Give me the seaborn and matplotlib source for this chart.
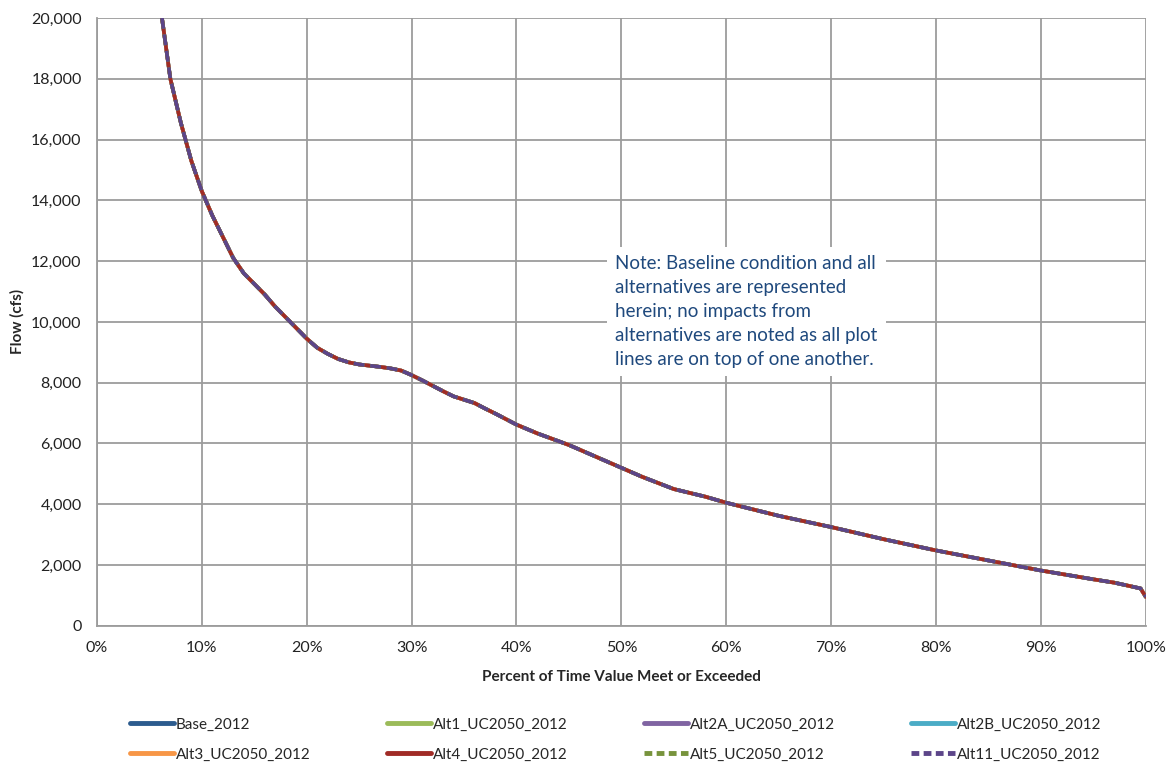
import numpy as np
import pandas as pd
import matplotlib
matplotlib.use("Agg")
import matplotlib.pyplot as plt
import seaborn as sns
from matplotlib.lines import Line2D
from matplotlib.ticker import FuncFormatter, MultipleLocator

# ── Data (flow duration curve) ──
pct = [6.2, 7, 8, 9, 10, 11, 12, 13, 14, 15, 16, 17, 18, 19, 20,
       21, 22, 23, 24, 25, 26, 27, 28, 29, 30, 31, 32, 33, 34, 35,
       36, 37, 38, 39, 40, 42, 45, 48, 50, 52, 55, 58, 60, 65, 70,
       75, 80, 85, 90, 95, 97, 99.5, 100]
flow = [20000, 18000, 16550, 15300, 14300, 13500, 12800, 12100, 11600, 11250,
        10900, 10500, 10150, 9800, 9450, 9150, 8950, 8780, 8670, 8600,
        8560, 8520, 8470, 8400, 8250, 8080, 7900, 7720, 7550, 7440,
        7330, 7150, 6980, 6800, 6620, 6330, 5950, 5500, 5200, 4900,
        4500, 4250, 4050, 3620, 3250, 2850, 2480, 2150, 1820, 1530,
        1420, 1230, 950]

series = ["Base_2012", "Alt1_UC2050_2012", "Alt2A_UC2050_2012", "Alt2B_UC2050_2012",
          "Alt3_UC2050_2012", "Alt4_UC2050_2012", "Alt5_UC2050_2012", "Alt11_UC2050_2012"]
colors = ["#2C5B8E", "#9BBB59", "#8064A2", "#4BACC6",
          "#F79646", "#A02B26", "#77933C", "#5C4589"]
dashed = [False, False, False, False, False, False, True, True]

note = ("Note: Baseline condition and all\n"
        "alternatives are represented\n"
        "herein; no impacts from\n"
        "alternatives are noted as all plot\n"
        "lines are on top of one another.")

df = pd.DataFrame({
    "pct": np.tile(pct, len(series)),
    "flow": np.tile(flow, len(series)),
    "series": np.repeat(series, len(pct)),
})

sns.set_style("white")
plt.rcParams["font.family"] = ["Lato", "DejaVu Sans"]

fig = plt.figure(figsize=(11.68, 7.66), dpi=100)
ax = fig.add_axes([0.083, 0.183, 0.898, 0.7935])

palette = dict(zip(series, colors))
dash_map = {s: ((3, 1.6) if d else "") for s, d in zip(series, dashed)}
sns.lineplot(data=df, x="pct", y="flow", hue="series", style="series",
             palette=palette, dashes=dash_map, linewidth=2.6, ax=ax,
             legend=False, sort=False)

ax.set_xlim(0, 100)
ax.set_ylim(0, 20000)
ax.xaxis.set_major_locator(MultipleLocator(10))
ax.yaxis.set_major_locator(MultipleLocator(2000))
ax.xaxis.set_major_formatter(FuncFormatter(lambda v, _: f"{v:.0f}%"))
ax.yaxis.set_major_formatter(FuncFormatter(lambda v, _: f"{v:,.0f}"))
ax.grid(True, color="#9C9C9C", linewidth=1.3)
ax.set_axisbelow(True)
for side in ["top", "right"]:
    ax.spines[side].set_visible(False)
for side in ["left", "bottom"]:
    ax.spines[side].set_color("#9C9C9C")
    ax.spines[side].set_linewidth(1.3)
ax.tick_params(axis="both", length=5, width=1.3, color="#9C9C9C",
               labelsize=11.5, labelcolor="#222222", pad=6)
ax.set_xlabel("Percent of Time Value Meet or Exceeded", fontsize=11,
              fontweight="bold", labelpad=11)
ax.set_ylabel("Flow (cfs)", fontsize=11, fontweight="bold", labelpad=5)

ax.text(49.4, 12200, note, fontsize=13.5, color="#1F497D", va="top", ha="left",
        linespacing=1.5,
        bbox=dict(facecolor="white", edgecolor="none", pad=6))

# legend filled row by row (matplotlib fills columns first)
order = [0, 4, 1, 5, 2, 6, 3, 7]
handles = [Line2D([0], [0], color=colors[i], linewidth=3.5,
                  linestyle=(0, (1.6, 0.9)) if dashed[i] else "-")
           for i in order]
labels = [series[i] for i in order]
fig.legend(handles, labels, loc="lower center", bbox_to_anchor=(0.527, -0.012),
           ncol=4, frameon=False, fontsize=11, handlelength=2.9,
           handletextpad=0.1, columnspacing=5.0, labelspacing=1.05)

fig.savefig("out.png", dpi=100)
